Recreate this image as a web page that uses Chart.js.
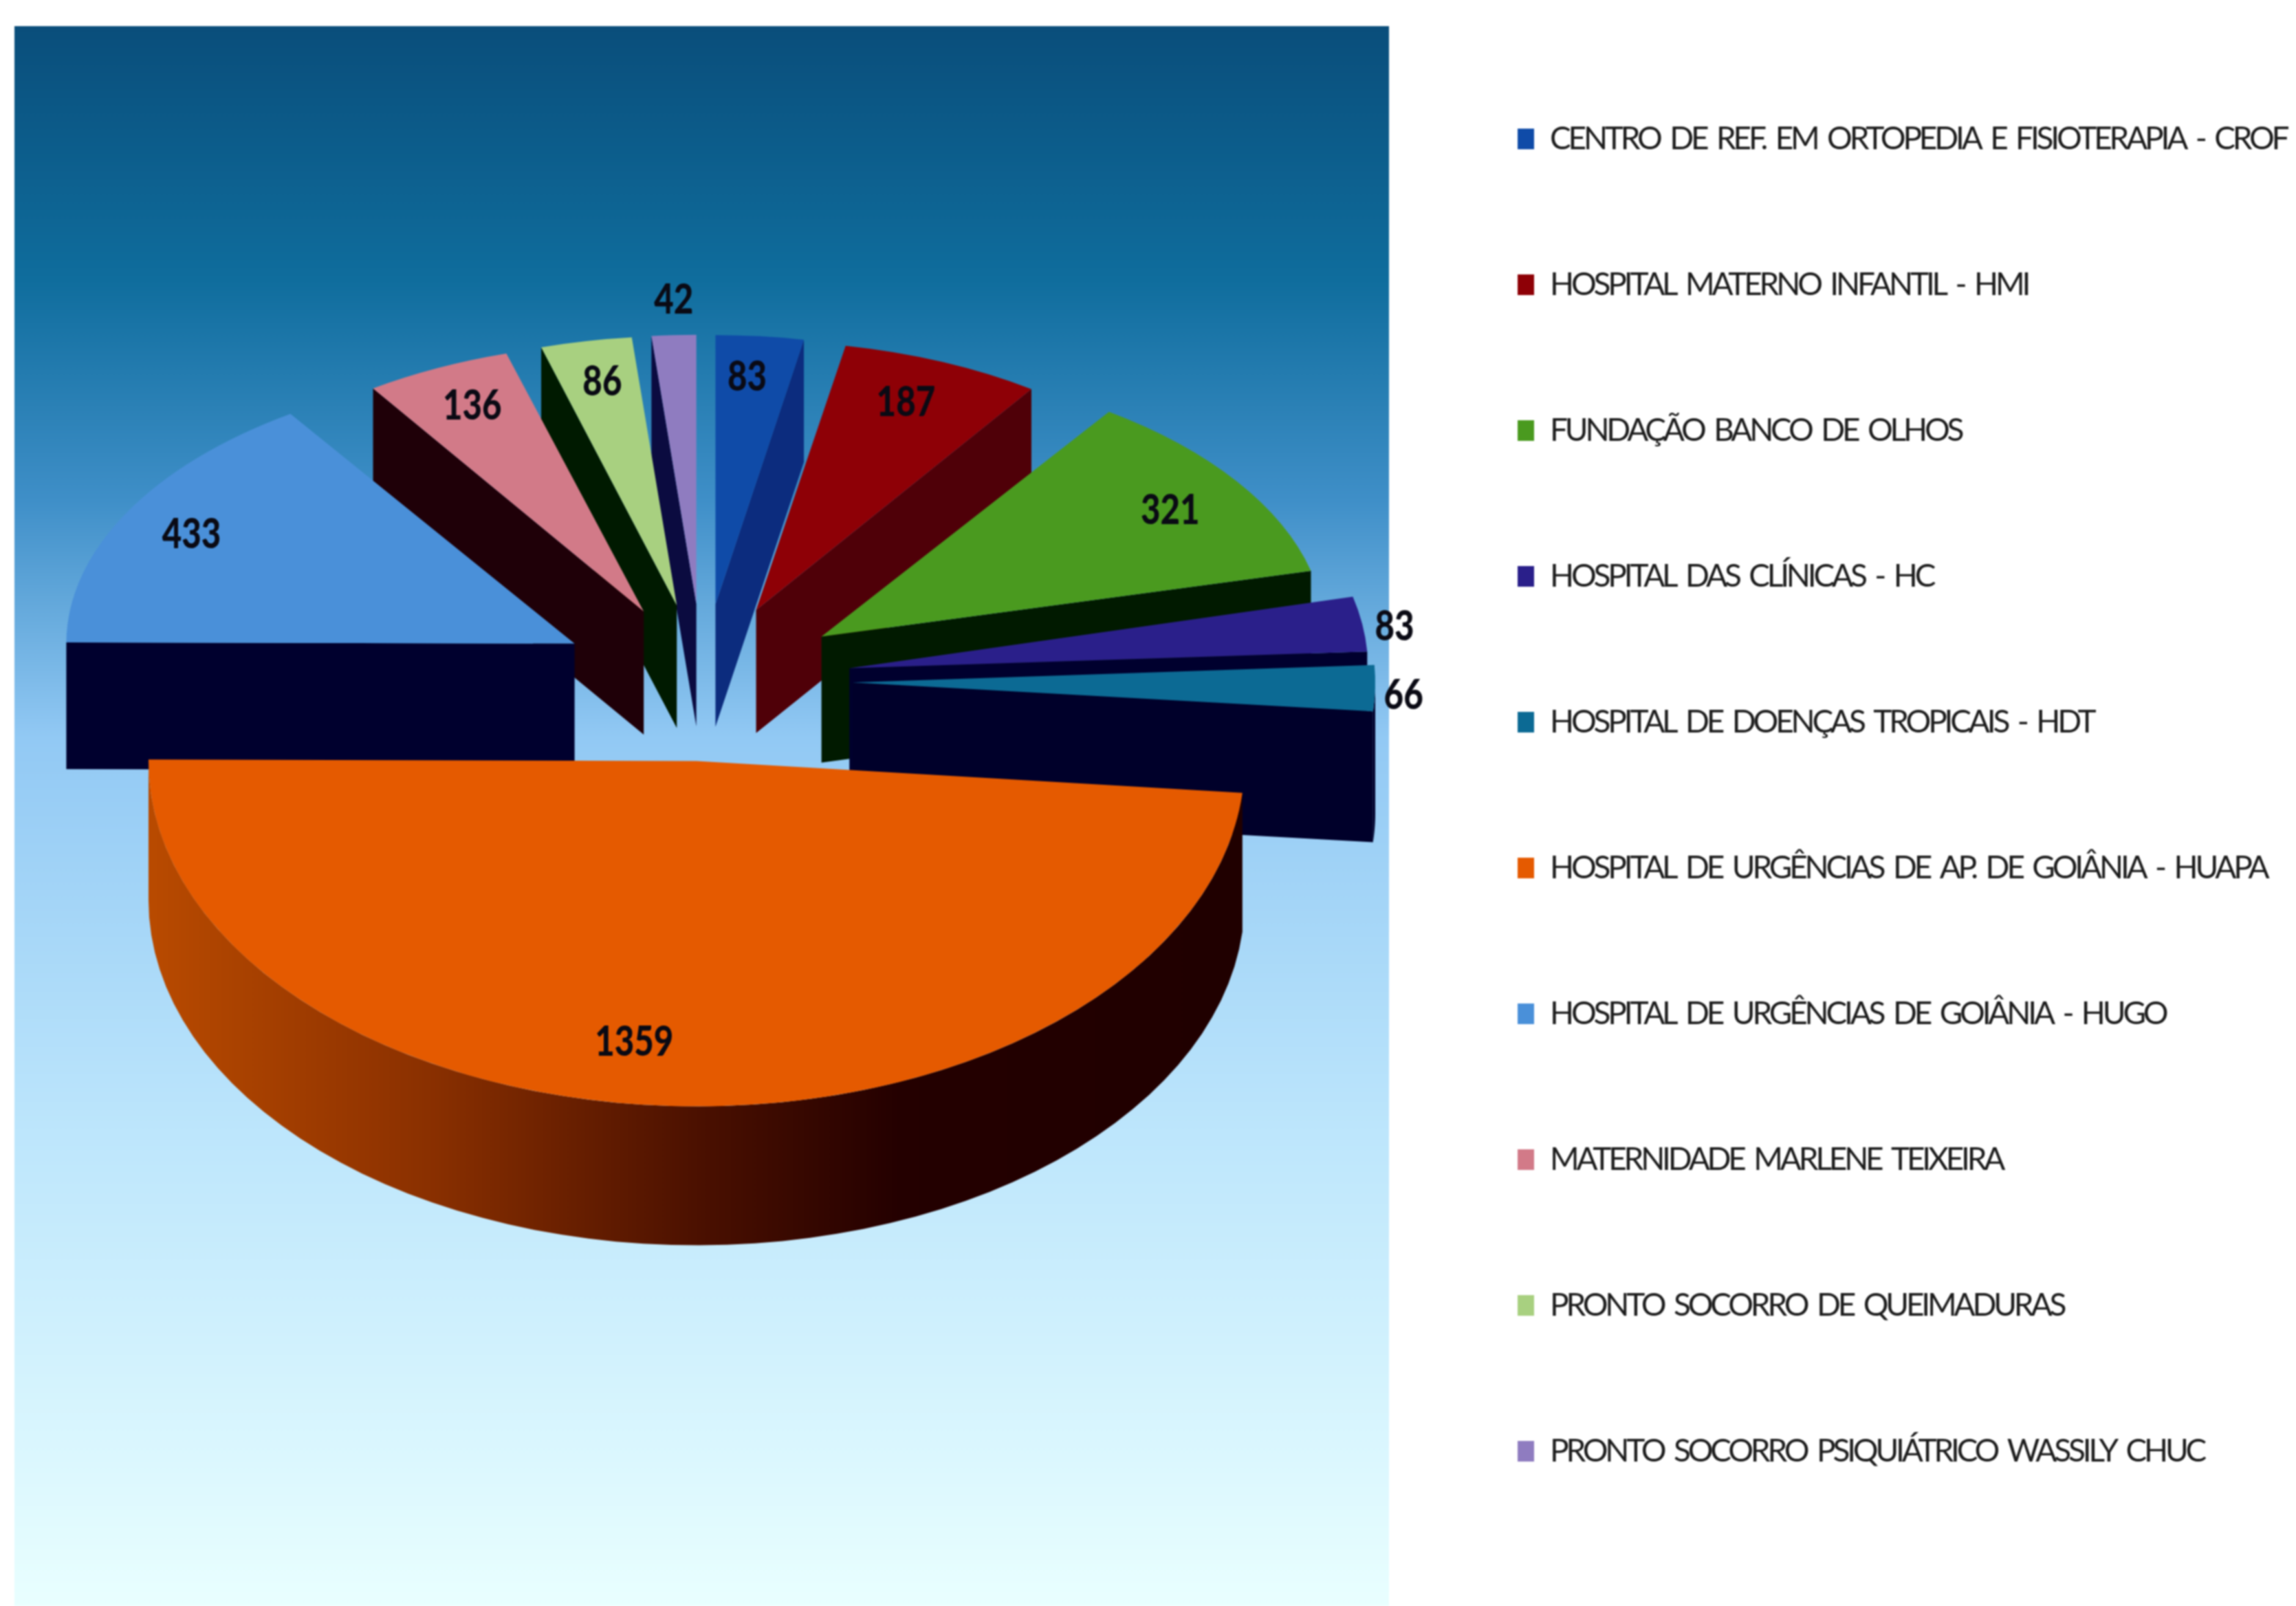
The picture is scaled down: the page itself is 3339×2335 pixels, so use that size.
<!DOCTYPE html>
<html>
<head>
<meta charset="utf-8">
<title>Pizza 3D</title>
<script src="https://cdn.jsdelivr.net/npm/chart.js@4/dist/chart.umd.js"></script>
<style>
    html, body { margin: 0; padding: 0; background: #fff; }
    canvas { display: block; filter: blur(1px); }
</style>
</head>
<body>
<canvas id="pieChart" width="3339" height="2335"></canvas>
<script>
const categories = [
    'CENTRO DE REF. EM ORTOPEDIA E FISIOTERAPIA - CROF',
    'HOSPITAL MATERNO INFANTIL - HMI',
    'FUNDAÇÃO BANCO DE OLHOS',
    'HOSPITAL DAS CLÍNICAS - HC',
    'HOSPITAL DE DOENÇAS TROPICAIS - HDT',
    'HOSPITAL DE URGÊNCIAS DE AP. DE GOIÂNIA - HUAPA',
    'HOSPITAL DE URGÊNCIAS DE GOIÂNIA - HUGO',
    'MATERNIDADE MARLENE TEIXEIRA',
    'PRONTO SOCORRO DE QUEIMADURAS',
    'PRONTO SOCORRO PSIQUIÁTRICO WASSILY CHUC'
];
const values = [83, 187, 321, 83, 66, 1359, 433, 136, 86, 42];

// cores
const topColors = ['#0F4BA8', '#8E0006', '#4A9A1F', '#2A1F8A', '#0C6A94', '#E55A00', '#4A90D9', '#D27A88', '#A8D080', '#8F7CC0'];
const cutColors = ['#0C2C7E', '#4F0008', '#011A00', '#00002E', '#00002A', '#3A1000', '#00002E', '#1F0008', '#001A00', '#0B0B40'];
// afastamento de cada fatia
const explode = [213, 213, 213, 213, 213, 173, 213, 213, 213, 213];
// posicao dos rotulos, em fracao do raio e desvio em graus
const labelRadius = [0.846, 0.831, 0.83, 1.06, 1.055, 0.822, 0.85, 0.84, 0.844, 1.129];
const labelShift = [-0.85, -0.8, 1.0, 1.1, 1.3, 5.2, -0.6, 0.3, 0.3, 0.3];

const PIE_X = 1022, PIE_Y = 990;

// perspectiva: fatias do fundo menores e mais achatadas
function sliceView(el, i) {
    const mid = (el.startAngle + el.endAngle) / 2;
    const up = -Math.sin(mid);
    const back = Math.max(up, 0);
    const s = 1.02 - 0.05 * up - 0.04 * Math.pow(back, 3);
    const k = 0.5975 - 0.0325 * up - 0.15 * back * (1 - back);
    const depth = 190 - 12 * up;
    const ox = PIE_X + s * Math.cos(mid) * explode[i];
    const oy = PIE_Y + s * k * Math.sin(mid) * explode[i];
    return {
        mid, up, s, k, depth, ox, oy,
        point(a, r) {
            return { x: ox + s * Math.cos(a) * r, y: oy + s * k * Math.sin(a) * r };
        }
    };
}

function fillWall(ctx, pts, depth, fill) {
    ctx.beginPath();
    pts.forEach((p, i) => i ? ctx.lineTo(p.x, p.y) : ctx.moveTo(p.x, p.y));
    pts.slice().reverse().forEach(p => ctx.lineTo(p.x, p.y + depth));
    ctx.closePath();
    ctx.fillStyle = fill;
    ctx.fill();
}

const backdropPlugin = {
    id: 'backdrop',
    beforeDraw(chart) {
        const ctx = chart.ctx;
        const g = ctx.createLinearGradient(0, 38, 0, 2335);
        g.addColorStop(0, '#0A4E7B');
        g.addColorStop(0.16, '#0F6D9D');
        g.addColorStop(0.3, '#3F8FC8');
        g.addColorStop(0.45, '#92C9F4');
        g.addColorStop(0.7, '#BDE6FC');
        g.addColorStop(1, '#E9FFFF');
        ctx.fillStyle = g;
        ctx.fillRect(21, 38, 1999, 2297);
        // legenda mais estreita, como no original
        ctx.letterSpacing = '-4.2px';
        ctx.wordSpacing = '7px';
    },
    afterLayout(chart) {
        // legenda na posicao do original
        const lg = chart.legend;
        const pad = lg.options.labels.padding;
        lg.left = 2207 - pad;
        lg.right = chart.width + pad;
        lg.top = 13;
        lg.bottom = chart.height + 200;
    }
};

const pie3dPlugin = {
    id: 'pie3d',
    beforeDatasetDraw(chart, args) {
        const ctx = chart.ctx;
        const arcs = chart.getDatasetMeta(args.index).data;
        const order = arcs.map((el, i) => i)
            .sort((a, b) => sliceView(arcs[b], b).up - sliceView(arcs[a], a).up);
        ctx.letterSpacing = '0px';
        ctx.wordSpacing = '0px';

        order.forEach(i => {
            const el = arcs[i];
            const v = sliceView(el, i);
            const R = el.outerRadius;

            // faces de corte
            [[el.startAngle, el.startAngle - Math.PI / 2], [el.endAngle, el.endAngle + Math.PI / 2]].forEach(([a, n]) => {
                if (Math.sin(n) > 0) {
                    fillWall(ctx, [v.point(0, 0), v.point(a, R)], v.depth, cutColors[i]);
                }
            });

            // parede externa, so a parte voltada para frente
            const from = Math.max(el.startAngle, 0);
            const to = Math.min(el.endAngle, Math.PI);
            if (to > from) {
                const pts = [];
                for (let n = 0; n <= 60; n++) {
                    pts.push(v.point(from + (to - from) * n / 60, R));
                }
                const g = ctx.createLinearGradient(PIE_X - v.s * R, 0, PIE_X + v.s * R, 0);
                g.addColorStop(0, '#B84A00');
                g.addColorStop(0.25, '#8A3000');
                g.addColorStop(0.5, '#4A1000');
                g.addColorStop(0.68, '#240000');
                g.addColorStop(1, '#200000');
                fillWall(ctx, pts, v.depth, i === 5 ? g : cutColors[i]);
            }

            // tampo: o proprio arco do Chart.js, achatado
            ctx.save();
            ctx.transform(v.s, 0, 0, v.s * v.k, v.ox - v.s * el.x, v.oy - v.s * v.k * el.y);
            el.draw(ctx);
            ctx.restore();
        });
        return false;
    },
    afterDatasetsDraw(chart) {
        const ctx = chart.ctx;
        const arcs = chart.getDatasetMeta(0).data;
        ctx.save();
        ctx.font = '900 60px Lato, sans-serif';
        ctx.textAlign = 'center';
        ctx.textBaseline = 'middle';
        ctx.fillStyle = '#0A0A14';
        arcs.forEach((el, i) => {
            const v = sliceView(el, i);
            const a = v.mid + labelShift[i] * Math.PI / 180;
            const p = v.point(a, el.outerRadius * labelRadius[i]);
            ctx.save();
            ctx.translate(p.x, p.y);
            ctx.scale(0.82, 1);
            ctx.fillText(String(values[i]), 0, 0);
            ctx.restore();
        });
        ctx.restore();
    }
};

new Chart(document.getElementById('pieChart').getContext('2d'), {
    type: 'pie',
    data: {
        labels: categories,
        datasets: [{
            data: values,
            backgroundColor: topColors,
            borderWidth: 0
        }]
    },
    options: {
        responsive: false,
        animation: false,
        rotation: 0,
        radius: 745,
        plugins: {
            tooltip: { enabled: false },
            title: { display: false },
            legend: {
                position: 'right',
                align: 'start',
                labels: {
                    boxWidth: 24,
                    boxHeight: 30,
                    padding: 166,
                    color: '#1C1C1C',
                    font: { family: 'Lato, sans-serif', size: 46 }
                }
            }
        }
    },
    plugins: [backdropPlugin, pie3dPlugin]
});
</script>
</body>
</html>
